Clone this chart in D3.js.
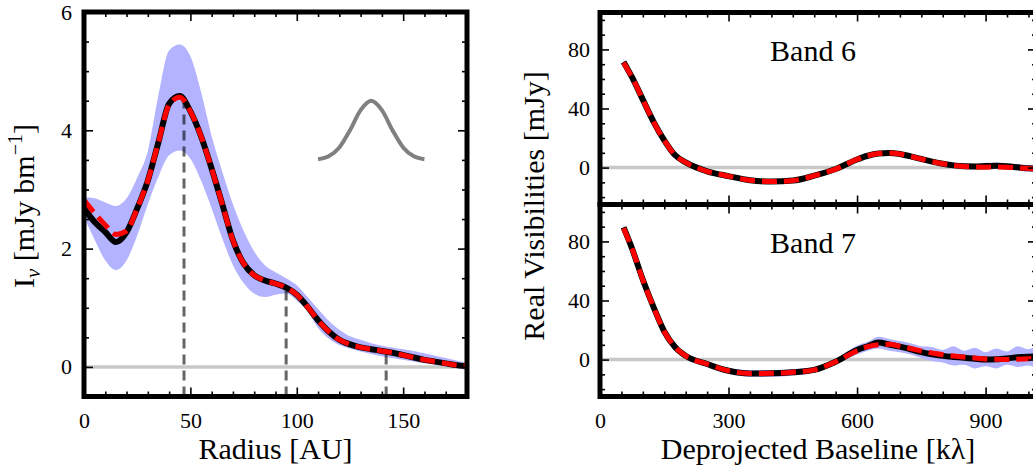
<!DOCTYPE html>
<html lang="en">
<head>
<meta charset="UTF-8" />
<title>Radial profile and visibilities</title>
<script src="https://cdn.jsdelivr.net/npm/d3@7"></script>
<style>
  body { margin: 0; background: #fff; }
  svg { display: block; }
</style>
</head>
<body>
<svg class="svg" width="1033" height="466"></svg>
<script>
// ---- radial profile (left panel) ----
const radius = [0, 5, 10, 15, 20, 25, 30, 35, 40, 45, 50, 55, 60, 65, 70, 75, 80, 85, 90,
  95, 100, 105, 110, 115, 120, 125, 130, 135, 140, 145, 150, 155, 160, 165, 170, 175, 180];
const profileObs = [2.68, 2.45, 2.28, 2.11, 2.28, 2.68, 3.15, 3.80, 4.45, 4.58, 4.32, 3.90, 3.35,
  2.75, 2.14, 1.75, 1.55, 1.46, 1.41, 1.34, 1.22, 1.02, 0.79, 0.60, 0.46, 0.38, 0.33, 0.30, 0.27,
  0.24, 0.20, 0.16, 0.12, 0.09, 0.06, 0.03, 0.01];
const profileModel = [2.82, 2.60, 2.40, 2.24, 2.30, 2.68, 3.15, 3.80, 4.43, 4.56, 4.32, 3.90, 3.35,
  2.75, 2.14, 1.75, 1.55, 1.46, 1.41, 1.34, 1.22, 1.02, 0.79, 0.60, 0.46, 0.38, 0.33, 0.30, 0.27,
  0.24, 0.20, 0.16, 0.12, 0.09, 0.06, 0.03, 0.01];
const profileHi = [2.87, 2.85, 2.78, 2.72, 2.85, 3.20, 3.65, 4.60, 5.35, 5.45, 5.25, 4.65, 3.90,
  3.30, 2.75, 2.30, 1.95, 1.72, 1.60, 1.50, 1.38, 1.18, 0.98, 0.78, 0.63, 0.52, 0.46, 0.40, 0.36,
  0.33, 0.30, 0.27, 0.23, 0.19, 0.15, 0.11, 0.07];
const profileLo = [2.54, 2.15, 1.80, 1.64, 1.80, 2.22, 2.75, 3.22, 3.58, 3.66, 3.52, 3.15, 2.68,
  2.17, 1.72, 1.42, 1.24, 1.18, 1.22, 1.24, 1.12, 0.95, 0.66, 0.48, 0.37, 0.31, 0.26, 0.22, 0.18,
  0.15, 0.12, 0.09, 0.06, 0.04, 0.01, -0.02, -0.05];
const gapRadii = [47, 95, 142];
const gapTops = [4.5, 1.30, 0.26];
const beamR = [110, 115, 120, 125, 130, 135, 140, 145, 150, 155, 160];
const beamI = [3.51, 3.56, 3.71, 4.0, 4.34, 4.5, 4.34, 4.0, 3.71, 3.56, 3.51];

// ---- visibilities (right panels) ----
const baseline = [55, 75, 100, 125, 150, 175, 200, 250, 300, 350, 400, 450, 500, 550, 600, 625,
  650, 675, 700, 725, 750, 775, 800, 825, 850, 875, 900, 925, 950, 975, 1000, 1025, 1050];
const band6Obs = [71.5, 61, 46, 31, 18.5, 8.5, 3.5, -2.5, -5.8, -8.6, -9.5, -8.8, -5.5, -1.0, 5.5,
  8, 9.5, 9.9, 9.2, 7.6, 5.8, 4, 2.6, 1.5, 0.9, 0.8, 1.0, 1.2, 0.9, 0.2, -0.5, -0.8, -1];
const band6Model = [71, 61, 46, 31, 18.5, 8.5, 3.5, -2.5, -5.8, -8.6, -9.5, -8.8, -5.5, -1.0, 5.5,
  8, 9.5, 9.9, 9.2, 7.6, 5.8, 4, 2.6, 1.5, 0.8, 0.4, 0.3, 0.4, 0.2, -0.2, -0.6, -0.9, -1.2];
const band6Hi = [73.5, 62.5, 47.5, 32.5, 20, 10, 5, -1, -4.3, -7, -8, -7.2, -4, 0.5, 7, 9.5, 11,
  11.5, 10.8, 9.2, 7.5, 5.8, 4.3, 3.2, 2.8, 2.6, 3.2, 3.5, 2.8, 2.3, 1.8, 1.5, 1.2];
const band6Lo = [69.5, 59.5, 44.5, 29.5, 17, 7, 2, -4, -7.3, -10.1, -11, -10.3, -7, -2.5, 4, 6.5,
  8, 8.3, 7.6, 6, 4.2, 2.4, 1, -0.2, -0.9, -1.2, -1.3, -1.0, -1.4, -1.9, -2.6, -3, -3.2];
const band7Obs = [89.5, 75, 54, 35.5, 19, 8.5, 2.5, -3, -7.6, -9.4, -9.3, -8.6, -7, -1.5, 6.5, 9,
  11.5, 10.2, 8.8, 7.0, 5.0, 3.5, 2.5, 1.8, 1.2, 0.5, 0, 0.2, 0.8, 1.6, 2.0, 2.2, 2.0];
const band7Model = [89, 75, 54, 35.5, 19, 8.5, 2.5, -3, -7.6, -9.4, -9.3, -8.6, -7, -1.5, 6, 8.8,
  10, 10.3, 9, 7.5, 5.8, 4.5, 3.3, 2.4, 1.7, 1.0, 0.4, 0.2, 0.1, 0.3, 0.6, 0.8, 0.9];
const band7Hi = [91.5, 77, 56, 37.5, 21, 10.5, 4.5, -1, -5.6, -7.2, -7, -6.5, -5, 0.5, 9.5, 12,
  15.5, 14, 12.5, 11, 9, 8.5, 6.5, 9, 6, 8, 5, 7.5, 5.5, 9, 7, 10, 8];
const band7Lo = [87.5, 73, 52, 33.5, 17, 6.5, 0.5, -5, -9.6, -11.6, -11.6, -10.7, -9, -3.5, 3.5,
  6, 7.5, 6, 5, 3.5, 1, -1, -2, -4, -3.5, -6, -4.5, -6, -3.5, -5, -4, -6, -5];
const bandNames = ['Band 6', 'Band 7'];

// quoted family name, the renderer only picks it up this way
const FONT = '"Liberation Serif"';
const svg = d3.select('.svg').style('font-family', FONT);
const BLUE = '#b3b3ff';
const FS = 22;   // tick labels
const LFS = 30;  // axis labels

// ticks on all four sides, pointing inwards; labels only where asked
function axes(g, x, y, o) {
  const [x0, x1] = x.range();
  const [y0, y1] = y.range(); // y0 bottom, y1 top
  const put = (axis, tx, ty) => {
    const a = g.append('g').attr('transform', `translate(${tx},${ty})`).call(axis);
    a.select('.domain').remove();
    a.selectAll('line').attr('stroke', '#000').attr('stroke-width', 1.6);
    a.attr('font-family', null).attr('font-size', FS).style('font-family', FONT);
    a.selectAll('text').attr('fill', '#000').style('font-family', FONT);
    return a;
  };
  const none = () => '';
  // major
  put(d3.axisBottom(x).tickValues(o.xMajor).tickSize(-9).tickPadding(16)
    .tickFormat(o.xLabels ? d3.format('d') : none), 0, y0);
  put(d3.axisTop(x).tickValues(o.xMajor).tickSize(-9).tickFormat(none), 0, y1);
  put(d3.axisLeft(y).tickValues(o.yMajor).tickSize(-9).tickPadding(o.yPad)
    .tickFormat(d3.format('d')), x0, 0);
  put(d3.axisRight(y).tickValues(o.yMajor).tickSize(-9).tickFormat(none), x1, 0);
  // minor
  put(d3.axisBottom(x).tickValues(o.xMinor).tickSize(-5).tickFormat(none), 0, y0);
  put(d3.axisTop(x).tickValues(o.xMinor).tickSize(-5).tickFormat(none), 0, y1);
  put(d3.axisLeft(y).tickValues(o.yMinor).tickSize(-5).tickFormat(none), x0, 0);
  put(d3.axisRight(y).tickValues(o.yMinor).tickSize(-5).tickFormat(none), x1, 0);
}

function spines(x, y) {
  const [x0, x1] = x.range();
  const [y0, y1] = y.range();
  svg.append('rect')
    .attr('x', x0).attr('y', y1).attr('width', x1 - x0).attr('height', y0 - y1)
    .attr('fill', 'none').attr('stroke', '#000').attr('stroke-width', 5);
}

function curves(g, x, y, xs, hi, lo, obs, model) {
  const pts = (arr) => xs.map((v, i) => [v, arr[i]]);
  const line = d3.line().x(d => x(d[0])).y(d => y(d[1])).curve(d3.curveMonotoneX);
  const area = d3.area().x((d, i) => x(xs[i])).y0((d, i) => y(lo[i])).y1((d, i) => y(hi[i]))
    .curve(d3.curveMonotoneX);
  g.append('path').datum(xs).attr('d', area).attr('fill', BLUE);
  g.append('path').datum(pts(obs)).attr('d', line)
    .attr('fill', 'none').attr('stroke', '#000').attr('stroke-width', 6)
    .attr('stroke-linejoin', 'round');
  g.append('path').datum(pts(model)).attr('d', line)
    .attr('fill', 'none').attr('stroke', '#ff0000').attr('stroke-width', 5)
    .attr('stroke-dasharray', '15,7');
}

function zeroLine(g, x, y) {
  g.append('line')
    .attr('x1', x.range()[0]).attr('x2', x.range()[1])
    .attr('y1', y(0)).attr('y2', y(0))
    .attr('stroke', '#c8c8c8').attr('stroke-width', 3.5);
}

function label(x, y, size, rot) {
  return svg.append('text')
    .attr('transform', `translate(${x},${y})` + (rot ? ' rotate(-90)' : ''))
    .attr('text-anchor', 'middle').attr('font-size', size)
    .style('font-family', FONT).attr('fill', '#000');
}

// ---------- left panel ----------
const xR = d3.scaleLinear().domain([0, 180]).range([84, 467]);
const yI = d3.scaleLinear().domain([-0.5, 6]).range([396.5, 12]);

svg.append('clipPath').attr('id', 'clipL').append('rect')
  .attr('x', 84).attr('y', 12).attr('width', 383).attr('height', 384.5);
const left = svg.append('g').attr('clip-path', 'url(#clipL)');
zeroLine(left, xR, yI);
const area = d3.area().x((d, i) => xR(radius[i])).y0((d, i) => yI(profileLo[i]))
  .y1((d, i) => yI(profileHi[i])).curve(d3.curveMonotoneX);
left.append('path').datum(radius).attr('d', area).attr('fill', BLUE);

left.selectAll('.gap').data(gapRadii).enter().append('line')
  .attr('class', 'gap')
  .attr('x1', d => xR(d)).attr('x2', d => xR(d))
  .attr('y1', yI(-0.5)).attr('y2', (d, i) => yI(gapTops[i]))
  .attr('stroke', '#000').attr('stroke-opacity', 0.6).attr('stroke-width', 3)
  .attr('stroke-dasharray', '10,6');

const lineL = d3.line().x(d => xR(d[0])).y(d => yI(d[1])).curve(d3.curveMonotoneX);
left.append('path').datum(beamR.map((r, i) => [r, beamI[i]])).attr('d', lineL)
  .attr('fill', 'none').attr('stroke', '#808080').attr('stroke-width', 4);
left.append('path').datum(radius.map((r, i) => [r, profileObs[i]])).attr('d', lineL)
  .attr('fill', 'none').attr('stroke', '#000').attr('stroke-width', 6)
  .attr('stroke-linejoin', 'round');
left.append('path').datum(radius.map((r, i) => [r, profileModel[i]])).attr('d', lineL)
  .attr('fill', 'none').attr('stroke', '#ff0000').attr('stroke-width', 5)
  .attr('stroke-dasharray', '15,7');

axes(svg.append('g'), xR, yI, {
  xMajor: [0, 50, 100, 150], xMinor: d3.range(10, 180, 10).filter(v => v % 50),
  yMajor: [0, 2, 4, 6], yMinor: d3.range(-0.5, 6, 0.5).filter(v => v % 2),
  xLabels: true, yPad: 12
});
spines(xR, yI);

label(275.5, 459, LFS).text('Radius [AU]');
const yl = label(34, 206, LFS, true);
yl.append('tspan').text('I');
yl.append('tspan').attr('font-size', 21).attr('dy', 6).attr('font-style', 'italic').text('ν');
yl.append('tspan').attr('dy', -6).text(' [mJy bm');
yl.append('tspan').attr('font-size', 20).attr('dy', -12).text('−1');
yl.append('tspan').attr('dy', 12).text(']');

// ---------- right panels ----------
const xB = d3.scaleLinear().domain([0, 1020]).range([600, 1037]);
const panels = [
  { top: 12.5, obs: band6Obs, model: band6Model, hi: band6Hi, lo: band6Lo },
  { top: 204.5, obs: band7Obs, model: band7Model, hi: band7Hi, lo: band7Lo }
];
panels.forEach((p, k) => {
  const yV = d3.scaleLinear().domain([-25, 105]).range([p.top + 192, p.top]);
  const id = 'clipR' + k;
  svg.append('clipPath').attr('id', id).append('rect')
    .attr('x', 600).attr('y', p.top).attr('width', 437).attr('height', 192);
  const g = svg.append('g').attr('clip-path', `url(#${id})`);
  zeroLine(g, xB, yV);
  curves(g, xB, yV, baseline, p.hi, p.lo, p.obs, p.model);
  axes(svg.append('g'), xB, yV, {
    xMajor: [0, 300, 600, 900], xMinor: d3.range(50, 1020, 50).filter(v => v % 300),
    yMajor: [0, 40, 80], yMinor: d3.range(-20, 105, 10).filter(v => v % 40),
    xLabels: k === 1, yPad: 10
  });
  label(813, p.top + 48, 30).text(bandNames[k]);
});
// frames last so they sit on top
panels.forEach(p => {
  spines(xB, d3.scaleLinear().domain([-25, 105]).range([p.top + 192, p.top]));
});

label(818, 459, LFS).text('Deprojected Baseline [kλ]');
label(544, 206, LFS, true).text('Real Visibilities [mJy]');
</script>
</body>
</html>
